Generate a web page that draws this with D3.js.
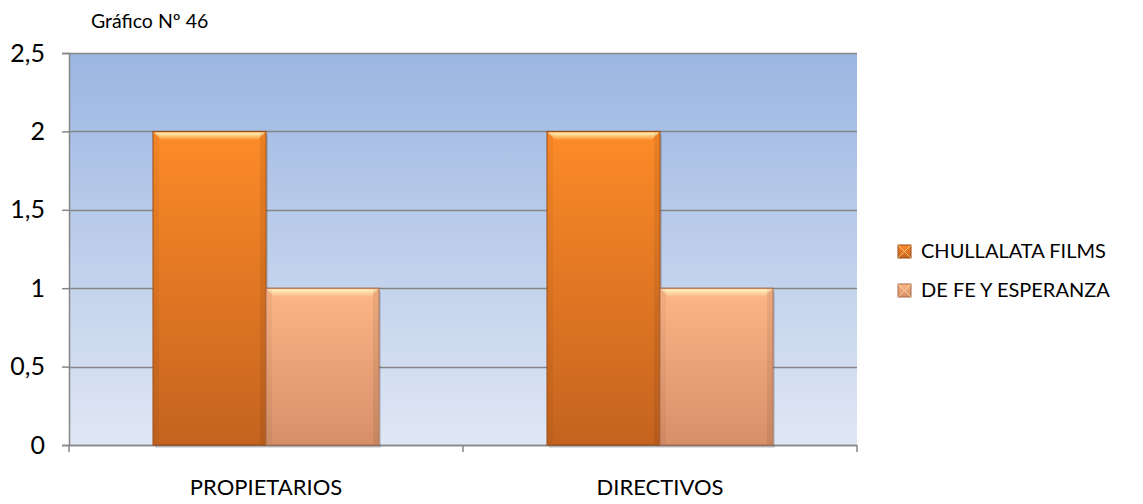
<!DOCTYPE html>
<html>
<head>
<meta charset="utf-8">
<script src="https://cdn.jsdelivr.net/npm/d3@7"></script>
<style>
  body { margin: 0; background: #fff; }
  text { font-family: Lato, "Open Sans", sans-serif; fill: #000; }
</style>
</head>
<body>
<div class="chart"></div>
<script>
var width = 1143, height = 504;

var categories = ["PROPIETARIOS", "DIRECTIVOS"];
var seriesNames = ["CHULLALATA FILMS", "DE FE Y ESPERANZA"];
var chullalata = [2, 2];
var deFe = [1, 1];
var yTicks = [0, 0.5, 1, 1.5, 2, 2.5];
var yTickLabels = ["0", "0,5", "1", "1,5", "2", "2,5"];

var margin = { top: 53, left: 69, right: 286, bottom: 59 };
var plotW = width - margin.left - margin.right;
var plotH = height - margin.top - margin.bottom;

var svg = d3.select('.chart').append('svg')
    .attr('width', width)
    .attr('height', height);

var defs = svg.append('defs');

// background gradient of plot area
var bg = defs.append('linearGradient').attr('id', 'bgGrad')
    .attr('x1', 0).attr('y1', 0).attr('x2', 0).attr('y2', 1);
bg.append('stop').attr('offset', '0%').attr('stop-color', '#9bb6e2');
bg.append('stop').attr('offset', '100%').attr('stop-color', '#e0e7f4');

// bar gradients
var g1 = defs.append('linearGradient').attr('id', 'bar1')
    .attr('x1', 0).attr('y1', 0).attr('x2', 0).attr('y2', 1);
g1.append('stop').attr('offset', '0%').attr('stop-color', '#fd8b28');
g1.append('stop').attr('offset', '100%').attr('stop-color', '#c4631f');
var g2 = defs.append('linearGradient').attr('id', 'bar2')
    .attr('x1', 0).attr('y1', 0).attr('x2', 0).attr('y2', 1);
g2.append('stop').attr('offset', '0%').attr('stop-color', '#fdb686');
g2.append('stop').attr('offset', '100%').attr('stop-color', '#d68f68');

var hl = defs.append('linearGradient').attr('id', 'hl')
    .attr('x1', 0).attr('y1', 0).attr('x2', 0).attr('y2', 1);
hl.append('stop').attr('offset', '0%').attr('stop-color', '#fff6c0').attr('stop-opacity', 1);
hl.append('stop').attr('offset', '100%').attr('stop-color', '#fff3b0').attr('stop-opacity', 0);

var barGrads = ['url(#bar1)', 'url(#bar2)'];
var barStroke = ['#9a4a12', '#a8694a'];

var g = svg.append('g').attr('transform', 'translate(' + margin.left + ',' + margin.top + ')');

var x0 = d3.scaleBand().domain(categories).range([0, plotW]).paddingInner(0).paddingOuter(0);
var x1 = d3.scaleBand().domain(seriesNames).range([84, x0.bandwidth() - 84]);
var y = d3.scaleLinear().domain([0, 2.5]).range([plotH, 0]);

g.append('rect')
    .attr('width', plotW).attr('height', plotH)
    .attr('fill', 'url(#bgGrad)');

// grid lines
g.selectAll('.grid').data(yTicks).enter().append('line')
    .attr('x1', 0).attr('x2', plotW)
    .attr('y1', function(d) { return Math.round(y(d)) + 0.5; })
    .attr('y2', function(d) { return Math.round(y(d)) + 0.5; })
    .attr('stroke', '#868686').attr('stroke-width', 1.5);

// y axis
var yAxis = d3.axisLeft(y).tickValues(yTicks)
    .tickFormat(function(d, i) { return yTickLabels[i]; })
    .tickSize(7).tickPadding(17);
var ya = g.append('g').call(yAxis);
ya.select('.domain').attr('stroke', '#868686').attr('stroke-width', 1.5);
ya.selectAll('line').attr('stroke', '#868686').attr('stroke-width', 1.5);
ya.selectAll('text').style('font-size', '25px').style('font-family', 'Lato, sans-serif');

// x axis
var xAxis = d3.axisBottom(x0).tickSize(0).tickPadding(34);
var xa = g.append('g').attr('transform', 'translate(0,' + plotH + ')').call(xAxis);
xa.select('.domain').attr('stroke', '#868686').attr('stroke-width', 1.5);
xa.selectAll('text').style('font-size', '22px').style('font-family', 'Lato, sans-serif');
xa.selectAll('.xt').data([0, plotW / 2, plotW]).enter().append('line')
    .attr('class', 'xt')
    .attr('x1', function(d) { return d; }).attr('x2', function(d) { return d; })
    .attr('y1', 0).attr('y2', 7)
    .attr('stroke', '#868686').attr('stroke-width', 1.5);

// bars
var rows = [];
categories.forEach(function(c, i) {
  rows.push({ cat: c, s: 0, v: chullalata[i] });
  rows.push({ cat: c, s: 1, v: deFe[i] });
});

var bars = g.selectAll('.bar').data(rows).enter().append('g').attr('class', 'bar')
    .attr('transform', function(d) { return 'translate(' + (x0(d.cat) + x1(seriesNames[d.s])) + ',0)'; });

// shadow
bars.append('rect')
    .attr('x', 2).attr('y', function(d) { return y(d.v) + 3; })
    .attr('width', x1.bandwidth()).attr('height', function(d) { return plotH - y(d.v); })
    .attr('fill', '#000').attr('opacity', 0.12);

bars.append('rect')
    .attr('x', 0).attr('y', function(d) { return y(d.v); })
    .attr('width', x1.bandwidth()).attr('height', function(d) { return plotH - y(d.v); })
    .attr('fill', function(d) { return barGrads[d.s]; })
    .attr('stroke', function(d) { return barStroke[d.s]; })
    .attr('stroke-width', 1);

// bevel top highlight
bars.append('path')
    .attr('d', function(d) {
      var w = x1.bandwidth(), t = y(d.v);
      return 'M1,' + (t + 1) + 'L' + (w - 1) + ',' + (t + 1) + 'L' + (w - 9) + ',' + (t + 9) + 'L9,' + (t + 9) + 'Z';
    })
    .attr('fill', 'url(#hl)');

// bevel sides
bars.append('rect')
    .attr('x', 1).attr('y', function(d) { return y(d.v) + 1; })
    .attr('width', 5).attr('height', function(d) { return plotH - y(d.v) - 2; })
    .attr('fill', '#000').attr('opacity', 0.04);
bars.append('rect')
    .attr('x', function() { return x1.bandwidth() - 6; }).attr('y', function(d) { return y(d.v) + 1; })
    .attr('width', 5).attr('height', function(d) { return plotH - y(d.v) - 2; })
    .attr('fill', '#000').attr('opacity', 0.07);

// title
svg.append('text').attr('x', 91).attr('y', 28)
    .style('font-size', '19.5px').text('Gráfico Nº 46');

// legend
var legend = svg.append('g').attr('transform', 'translate(898,251)');
var li = legend.selectAll('.li').data(seriesNames).enter().append('g')
    .attr('transform', function(d, i) { return 'translate(0,' + (i * 39) + ')'; });
li.append('rect').attr('x', 0).attr('y', -6).attr('width', 13).attr('height', 13)
    .attr('fill', function(d, i) { return barGrads[i]; })
    .attr('stroke', function(d, i) { return barStroke[i]; });
li.append('path')
    .attr('d', 'M0,-6L6.5,0.5L13,-6M0,7L6.5,0.5L13,7')
    .attr('fill', 'none').attr('stroke', '#fff3b0').attr('stroke-opacity', 0.6).attr('stroke-width', 1);
li.append('text').attr('x', 23).attr('y', 0).attr('dy', '0.35em')
    .style('font-size', '20px').text(function(d) { return d; });
</script>
</body>
</html>
